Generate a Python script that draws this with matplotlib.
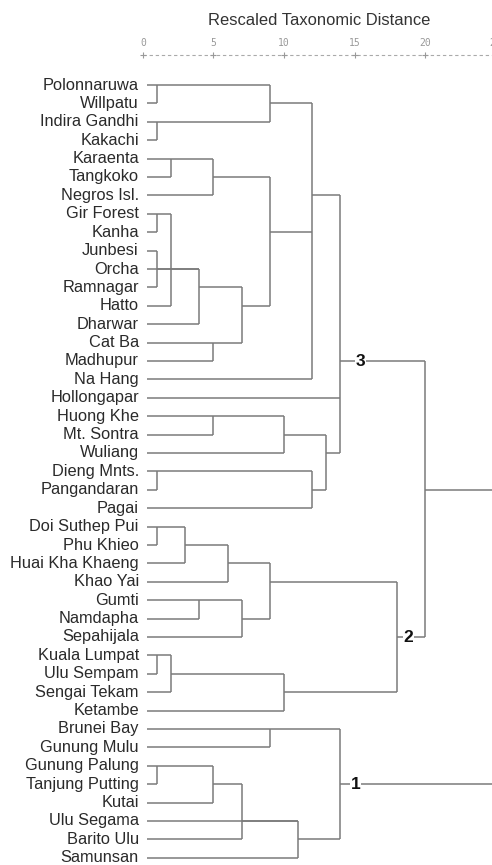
import matplotlib.pyplot as plt

leaves = [
    'Polonnaruwa', 'Willpatu', 'Indira Gandhi', 'Kakachi', 'Karaenta',
    'Tangkoko', 'Negros Isl.', 'Gir Forest', 'Kanha', 'Junbesi', 'Orcha',
    'Ramnagar', 'Hatto', 'Dharwar', 'Cat Ba', 'Madhupur', 'Na Hang',
    'Hollongapar', 'Huong Khe', 'Mt. Sontra', 'Wuliang', 'Dieng Mnts.',
    'Pangandaran', 'Pagai', 'Doi Suthep Pui', 'Phu Khieo', 'Huai Kha Khaeng',
    'Khao Yai', 'Gumti', 'Namdapha', 'Sepahijala', 'Kuala Lumpat',
    'Ulu Sempam', 'Sengai Tekam', 'Ketambe', 'Brunei Bay', 'Gunung Mulu',
    'Gunung Palung', 'Tanjung Putting', 'Kutai', 'Ulu Segama', 'Barito Ulu',
    'Samunsan',
]

# cluster name, members, rescaled distance, row the branch leaves from
merges = [
    ('c01', ['Polonnaruwa', 'Willpatu'], 1, 0),
    ('c02', ['Indira Gandhi', 'Kakachi'], 1, 2),
    ('c03', ['c01', 'c02'], 9, 1),
    ('c04', ['Karaenta', 'Tangkoko'], 2, 4),
    ('c05', ['c04', 'Negros Isl.'], 5, 5),
    ('c06', ['Gir Forest', 'Kanha'], 1, 7),
    ('c07', ['Junbesi', 'Ramnagar'], 1, 10),
    ('c08', ['c06', 'c07', 'Hatto'], 2, 10),
    ('c09', ['c08', 'Orcha', 'Dharwar'], 4, 11),
    ('c10', ['Cat Ba', 'Madhupur'], 5, 14),
    ('c11', ['c09', 'c10'], 7, 12),
    ('c12', ['c05', 'c11'], 9, 8),
    ('c13', ['c03', 'c12', 'Na Hang'], 12, 6),
    ('c14', ['Huong Khe', 'Mt. Sontra'], 5, 18),
    ('c15', ['c14', 'Wuliang'], 10, 19),
    ('c16', ['Dieng Mnts.', 'Pangandaran'], 1, 21),
    ('c17', ['c16', 'Pagai'], 12, 22),
    ('c18', ['c15', 'c17'], 13, 20),
    ('g3', ['c13', 'Hollongapar', 'c18'], 14, 15),
    ('c19', ['Doi Suthep Pui', 'Phu Khieo'], 1, 24),
    ('c20', ['c19', 'Huai Kha Khaeng'], 3, 25),
    ('c21', ['c20', 'Khao Yai'], 6, 26),
    ('c22', ['Gumti', 'Namdapha'], 4, 28),
    ('c23', ['c22', 'Sepahijala'], 7, 29),
    ('c24', ['c21', 'c23'], 9, 27),
    ('c25', ['Kuala Lumpat', 'Ulu Sempam'], 1, 31),
    ('c26', ['c25', 'Sengai Tekam'], 2, 32),
    ('c27', ['c26', 'Ketambe'], 10, 33),
    ('g2', ['c24', 'c27'], 18, 30),
    ('c28', ['Brunei Bay', 'Gunung Mulu'], 9, 35),
    ('c29', ['Gunung Palung', 'Tanjung Putting'], 1, 37),
    ('c30', ['c29', 'Kutai'], 5, 38),
    ('c31', ['c30', 'Barito Ulu'], 7, 40),
    ('c32', ['c31', 'Ulu Segama', 'Samunsan'], 11, 41),
    ('g1', ['c28', 'c32'], 14, 38),
    ('c33', ['g3', 'g2'], 20, 22),
]

group_labels = {'g3': '3', 'g2': '2', 'g1': '1'}
ticks = [0, 5, 10, 15, 20, 25]
max_dist = 25

LINE = '#7a7a7a'
LEAF_START = 0.28

fig = plt.figure(figsize=(4.92, 8.65), dpi=100)
ax = fig.add_axes([0, 0, 1, 1])
ax.set_xlim(-143 / 14.1, (492 - 143) / 14.1)
ax.set_ylim((865 - 85) / 18.4, -85 / 18.4)
ax.axis('off')

# node -> (row, x where its branch starts)
nodes = {name: (i, LEAF_START) for i, name in enumerate(leaves)}
used = set()
for name, kids, dist, row in merges:
    rows = []
    for k in kids:
        r, x0 = nodes[k]
        ax.hlines(r, x0, dist, color=LINE, lw=1.1)
        rows.append(r)
        used.add(k)
    ax.vlines(dist, min(rows), max(rows), color=LINE, lw=1.1)
    nodes[name] = (row, dist)

for name, (r, x0) in nodes.items():
    if name not in used and name not in leaves:
        ax.hlines(r, x0, max_dist, color=LINE, lw=1.1)

label_gap = {'3': 1.1, '2': 0.5, '1': 0.75}
for name, text in group_labels.items():
    r, x0 = nodes[name]
    ax.text(x0 + label_gap[text], r, text, ha='left', va='center', fontsize=12.5,
            fontweight='bold', family='Liberation Sans', color='#111111',
            bbox=dict(facecolor='white', edgecolor='none', pad=0.5))

for i, name in enumerate(leaves):
    ax.text(-0.3, i, name, ha='right', va='center', fontsize=11.8,
            family='Liberation Sans', color='#2a2a2a')

# distance scale on top
ax.text(max_dist / 2, -3.53, 'Rescaled Taxonomic Distance', ha='center',
        va='center', fontsize=11.9, family='Liberation Sans', color='#333333')
for t in ticks:
    ax.text(t, -2.3, str(t), ha='center', va='center', fontsize=7,
            family='DejaVu Sans Mono', color='#999999')
ax.plot([0, max_dist], [-1.63, -1.63], color='#aaaaaa', lw=0.8,
        linestyle=(0, (3, 2.5)))
ax.plot(ticks, [-1.63] * len(ticks), linestyle='none', marker='+',
        color='#999999', ms=4, mew=0.8)

fig.savefig('out.png', dpi=100)
